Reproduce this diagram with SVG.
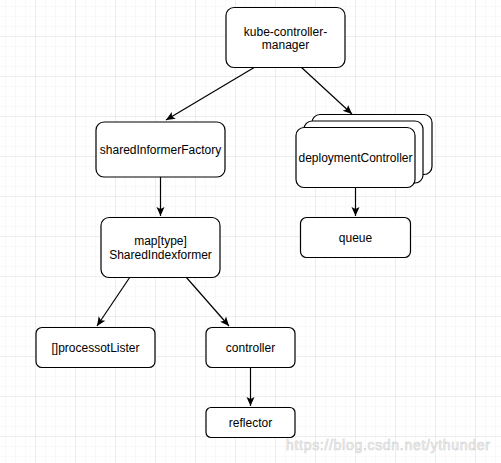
<svg xmlns="http://www.w3.org/2000/svg" width="501" height="463" viewBox="0 0 501 463">
<defs>
<pattern id="minor" width="10" height="10" patternUnits="userSpaceOnUse" x="6" y="7">
<path d="M10 0V10M0 10H10" fill="none" stroke="#f2f2f2" stroke-width="1"/>
</pattern>
<pattern id="major" width="40" height="40" patternUnits="userSpaceOnUse" x="-4" y="-3">
<path d="M40 0V40M0 40H40" fill="none" stroke="#e0e0e0" stroke-width="1"/>
</pattern>
<marker id="arr" markerWidth="10" markerHeight="10" viewBox="0 0 10 10" refX="9" refY="5" orient="auto" markerUnits="userSpaceOnUse">
<path d="M0 1 L9 5 L0 9 L2 5 Z" fill="#000"/>
</marker>
</defs>
<style>
.box{fill:#fff;stroke:#000;stroke-width:1.2}
.t{font-family:"Liberation Sans",Arial,sans-serif;font-size:12px;fill:#000;text-anchor:middle}
.e{fill:none;stroke:#000;stroke-width:1.2;marker-end:url(#arr)}
</style>
<rect width="501" height="463" fill="#fff"/>
<rect width="501" height="463" fill="url(#minor)"/>
<rect width="501" height="463" fill="url(#major)"/>
<g id="edges">
<line class="e" x1="255" y1="67" x2="166" y2="120"/>
<line class="e" x1="301" y1="67" x2="352" y2="114"/>
<line class="e" x1="160.5" y1="177" x2="160.5" y2="216"/>
<line class="e" x1="355.5" y1="187" x2="355.5" y2="216"/>
<line class="e" x1="130" y1="277" x2="97" y2="326"/>
<line class="e" x1="186" y1="277" x2="229" y2="326"/>
<line class="e" x1="250.5" y1="367" x2="250.5" y2="406"/>
</g>
<g id="kube-controller-manager">
<rect class="box" x="226" y="7.5" width="119" height="60" rx="8"/>
<text class="t" x="285.5" y="35.5">kube-controller-</text>
<text class="t" x="285.5" y="49">manager</text>
</g>
<g id="sharedInformerFactory">
<rect class="box" x="96" y="122" width="129" height="55" rx="8"/>
<text class="t" x="160.5" y="154">sharedInformerFactory</text>
</g>
<g id="deploymentController">
<rect class="box" x="312" y="114.5" width="120" height="60" rx="8"/>
<rect class="box" x="304" y="121" width="119" height="62" rx="8"/>
<rect class="box" x="296" y="127.5" width="119" height="60" rx="8"/>
<text class="t" x="355.5" y="162">deploymentController</text>
</g>
<g id="queue">
<rect class="box" x="300.5" y="217.5" width="110" height="40" rx="6"/>
<text class="t" x="355.5" y="242">queue</text>
</g>
<g id="map-type">
<rect class="box" x="101" y="217.5" width="119" height="60" rx="8"/>
<text class="t" x="160.5" y="245">map[type]</text>
<text class="t" x="160.5" y="259">SharedIndexformer</text>
</g>
<g id="processotLister">
<rect class="box" x="36" y="327.5" width="119" height="40" rx="6"/>
<text class="t" x="95.5" y="352">[]processotLister</text>
</g>
<g id="controller">
<rect class="box" x="206" y="327.5" width="89" height="40" rx="6"/>
<text class="t" x="250.5" y="352">controller</text>
</g>
<g id="reflector">
<rect class="box" x="206" y="407.5" width="89" height="30" rx="5"/>
<text class="t" x="250.5" y="427">reflector</text>
</g>
<text x="286" y="450" font-family="Liberation Sans,Arial,sans-serif" font-size="14" fill="#f4f4f4" stroke="#d4d4d4" stroke-width="0.6" textLength="204">https://blog.csdn.net/ythunder</text>
</svg>
